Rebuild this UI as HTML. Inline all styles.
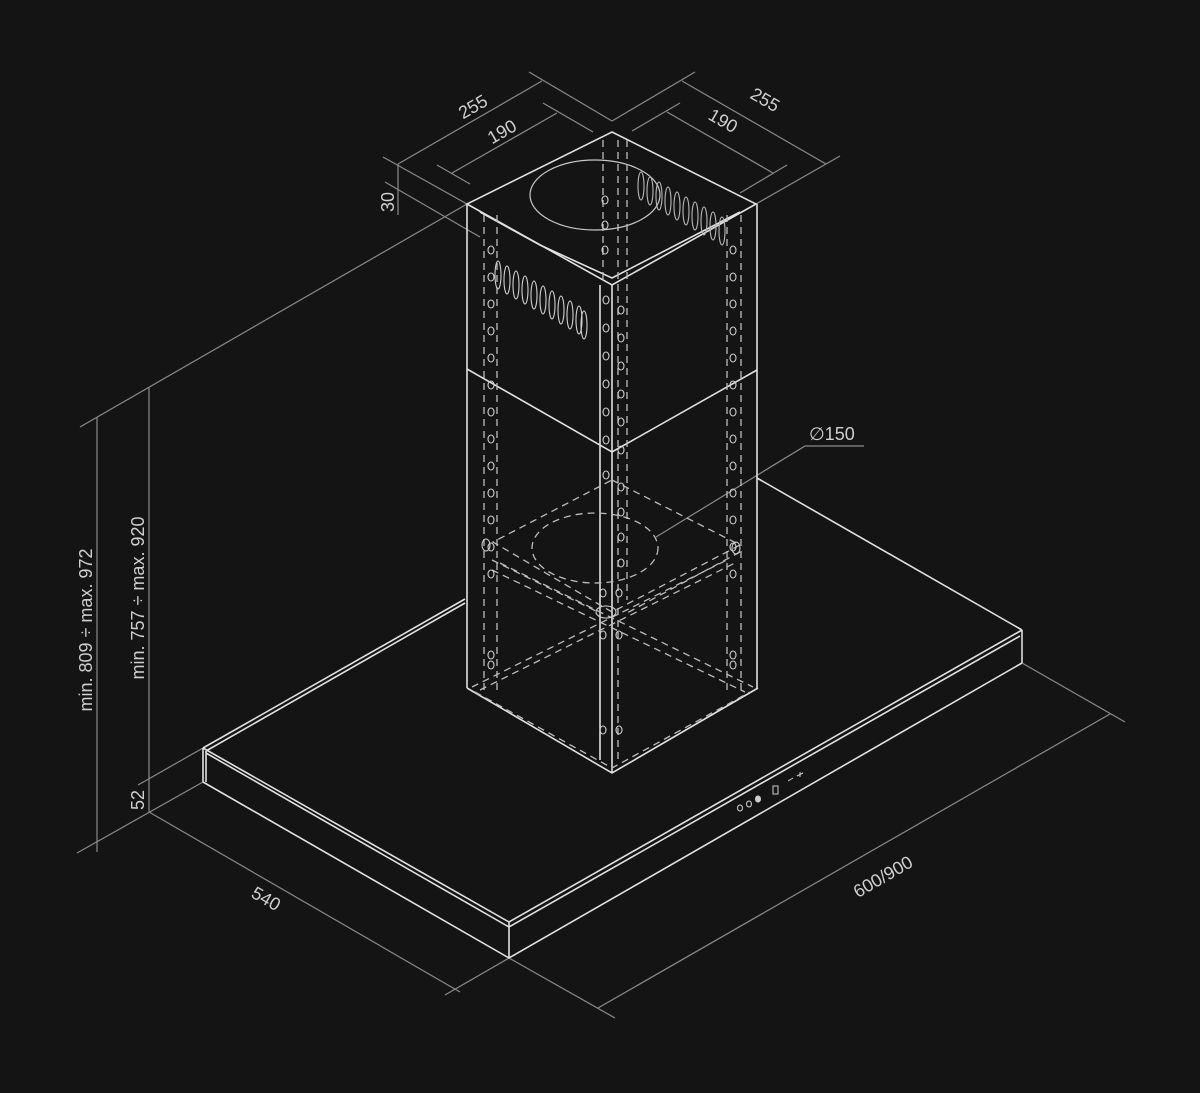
<!DOCTYPE html>
<html><head><meta charset="utf-8"><style>
html,body{margin:0;padding:0;background:#141414;}
svg{display:block}
text{font-family:"Liberation Sans","DejaVu Sans",sans-serif;fill:#cfcfcf;font-size:18px}
</style></head><body>
<svg width="1200" height="1093" viewBox="0 0 1200 1093" xmlns="http://www.w3.org/2000/svg">
<rect width="1200" height="1093" fill="#141414"/>
<!-- dimension lines -->
<g stroke="#8a8a8a" stroke-width="1.2" fill="none">
 <!-- top dims -->
 <line x1="529" y1="72" x2="612" y2="121"/>
 <line x1="695" y1="72" x2="612" y2="121"/>
 <line x1="383" y1="157" x2="467" y2="204"/>
 <line x1="840" y1="156" x2="756" y2="204"/>
 <line x1="398" y1="164" x2="542" y2="81"/>
 <line x1="682" y1="81" x2="826" y2="164"/>
 <line x1="437" y1="165" x2="470" y2="184"/>
 <line x1="543" y1="103" x2="593" y2="132"/>
 <line x1="452" y1="173" x2="557" y2="113"/>
 <line x1="680" y1="103" x2="632" y2="131"/>
 <line x1="787" y1="165" x2="740" y2="193"/>
 <line x1="667" y1="112" x2="773" y2="173"/>
 <line x1="398" y1="164" x2="398" y2="215"/>
 <line x1="385" y1="182" x2="480" y2="237"/>
 <!-- height dims -->
 <line x1="80" y1="427" x2="467" y2="204"/>
 <line x1="97" y1="417" x2="97" y2="852"/>
 <line x1="149" y1="388" x2="149" y2="812"/>
 <line x1="138" y1="785" x2="203" y2="748"/>
 <line x1="77" y1="853" x2="203" y2="782"/>
 <!-- 540 -->
 <line x1="149" y1="812" x2="460" y2="992"/>
 <line x1="445" y1="995" x2="509" y2="958"/>
 <!-- 600/900 -->
 <line x1="509" y1="958" x2="615" y2="1018"/>
 <line x1="1022" y1="663" x2="1125" y2="722"/>
 <line x1="598" y1="1008" x2="1110" y2="714"/>
 <!-- diameter leader -->
 <polyline points="656,537 805,446 864,446"/>
</g>
<!-- canopy -->
<g stroke="#e0e0e0" stroke-width="1.6" fill="none">
 <line x1="203" y1="748" x2="465" y2="599"/>
 <line x1="206" y1="751" x2="465" y2="603"/>
 <line x1="757" y1="478" x2="1022" y2="630"/>
 <polyline points="203,748 509,922 1022,630"/>
 <polyline points="206,753 509,927 1020,636"/>
 <polyline points="203,782 509,958 1022,663"/>
 <line x1="203" y1="748" x2="203" y2="782"/>
 <line x1="206" y1="751" x2="206" y2="782"/>
 <line x1="509" y1="922" x2="509" y2="958"/>
 <line x1="1022" y1="630" x2="1022" y2="663"/>
</g>
<!-- control panel -->
<g stroke="#d0d0d0" stroke-width="1" fill="none">
 <ellipse cx="740" cy="808" rx="2.5" ry="3"/>
 <ellipse cx="749" cy="804" rx="2.5" ry="3"/>
 <ellipse cx="758" cy="799" rx="2.5" ry="3" fill="#d0d0d0"/>
 <rect x="773" y="786" width="5" height="8"/>
 <line x1="788" y1="781" x2="793" y2="778"/>
 <line x1="797" y1="776" x2="803" y2="773"/><line x1="800" y1="772" x2="800" y2="777"/>
</g>
<!-- column -->
<g stroke="#e0e0e0" stroke-width="1.6" fill="none">
 <polygon points="612,132 756,204 612,285 467,204"/>
 <polyline points="480,212 540,245 612,278 740,212"/>
 <line x1="467" y1="204" x2="467" y2="688"/>
 <line x1="757" y1="204" x2="757" y2="688"/>
 <line x1="612" y1="285" x2="612" y2="773"/>
 <polyline points="467,688 612,773 758,688"/>
 <polyline points="467,369 612,452 757,370"/>
 <line x1="600" y1="285" x2="600" y2="760"/>
</g>
<g stroke="#c8c8c8" stroke-width="1.2" fill="none">
 <ellipse cx="595" cy="195" rx="65" ry="35"/>
</g>
<!-- dashed inner structure -->
<g stroke="#bdbdbd" stroke-width="1.3" fill="none" stroke-dasharray="7,5">
 <line x1="484" y1="215" x2="484" y2="690"/>
 <line x1="497" y1="215" x2="497" y2="690"/>
 <line x1="618" y1="140" x2="618" y2="760"/>
 <line x1="627" y1="140" x2="627" y2="600"/>
 <line x1="727" y1="215" x2="727" y2="690"/>
 <line x1="741" y1="215" x2="741" y2="690"/>
 <line x1="603" y1="140" x2="603" y2="280"/>
 <polygon points="612,480 740,545 612,612 493,542"/>
 <polyline points="492,560 600,613"/>
 <polyline points="740,552 627,613"/>
 <ellipse cx="595" cy="548" rx="63" ry="35"/>
 <line x1="472" y1="687" x2="727" y2="560"/>
 <line x1="480" y1="690" x2="735" y2="563"/>
 <line x1="500" y1="563" x2="753" y2="687"/>
 <line x1="492" y1="570" x2="745" y2="692"/>
 <polyline points="475,692 612,768 750,692"/>
</g>
<!-- holes -->
<g stroke="#d0d0d0" stroke-width="1.1" fill="none">
 <g id="lh">
  <ellipse cx="491" cy="250" rx="3" ry="4"/><ellipse cx="491" cy="277" rx="3" ry="4"/><ellipse cx="491" cy="304" rx="3" ry="4"/><ellipse cx="491" cy="331" rx="3" ry="4"/><ellipse cx="491" cy="358" rx="3" ry="4"/><ellipse cx="491" cy="385" rx="3" ry="4"/><ellipse cx="491" cy="412" rx="3" ry="4"/><ellipse cx="491" cy="439" rx="3" ry="4"/><ellipse cx="491" cy="466" rx="3" ry="4"/><ellipse cx="491" cy="493" rx="3" ry="4"/><ellipse cx="491" cy="520" rx="3" ry="4"/><ellipse cx="491" cy="547" rx="3" ry="4"/><ellipse cx="491" cy="574" rx="3" ry="4"/><ellipse cx="491" cy="655" rx="3" ry="4"/><ellipse cx="491" cy="665" rx="3" ry="4"/>
 </g>
 <use href="#lh" x="242"/>
 <g>
  <ellipse cx="606" cy="300" rx="3" ry="4"/><ellipse cx="621" cy="310" rx="3" ry="4"/><ellipse cx="606" cy="328" rx="3" ry="4"/><ellipse cx="621" cy="338" rx="3" ry="4"/><ellipse cx="606" cy="356" rx="3" ry="4"/><ellipse cx="621" cy="366" rx="3" ry="4"/><ellipse cx="606" cy="384" rx="3" ry="4"/><ellipse cx="621" cy="394" rx="3" ry="4"/><ellipse cx="606" cy="412" rx="3" ry="4"/><ellipse cx="621" cy="422" rx="3" ry="4"/><ellipse cx="606" cy="440" rx="3" ry="4"/><ellipse cx="621" cy="450" rx="3" ry="4"/><ellipse cx="606" cy="475" rx="3" ry="4"/><ellipse cx="621" cy="487" rx="3" ry="4"/><ellipse cx="621" cy="512" rx="3" ry="4"/><ellipse cx="621" cy="537" rx="3" ry="4"/><ellipse cx="621" cy="563" rx="3" ry="4"/><ellipse cx="603" cy="593" rx="3" ry="4"/><ellipse cx="619" cy="593" rx="3" ry="4"/><ellipse cx="603" cy="635" rx="3" ry="4"/><ellipse cx="619" cy="635" rx="3" ry="4"/><ellipse cx="603" cy="730" rx="3" ry="4"/><ellipse cx="619" cy="730" rx="3" ry="4"/>
  <ellipse cx="605" cy="200" rx="3" ry="4"/><ellipse cx="605" cy="225" rx="3" ry="4"/><ellipse cx="605" cy="250" rx="3" ry="4"/>
  <ellipse cx="606" cy="612" rx="10" ry="6"/><ellipse cx="486" cy="545" rx="4" ry="6"/><ellipse cx="736" cy="548" rx="4" ry="6"/>
 </g>
 <!-- slots left face -->
 <g>
  <ellipse cx="498" cy="275" rx="3" ry="14"/><ellipse cx="507" cy="280" rx="3" ry="14"/><ellipse cx="516" cy="285" rx="3" ry="14"/><ellipse cx="525" cy="290" rx="3" ry="14"/><ellipse cx="534" cy="295" rx="3" ry="14"/><ellipse cx="543" cy="300" rx="3" ry="14"/><ellipse cx="552" cy="305" rx="3" ry="14"/><ellipse cx="561" cy="310" rx="3" ry="14"/><ellipse cx="570" cy="315" rx="3" ry="14"/><ellipse cx="579" cy="320" rx="3" ry="14"/><ellipse cx="584" cy="325" rx="3" ry="14"/>
 </g>
 <g stroke="#b8b8b8">
  <ellipse cx="641" cy="186" rx="3" ry="14"/><ellipse cx="650" cy="191" rx="3" ry="14"/><ellipse cx="659" cy="196" rx="3" ry="14"/><ellipse cx="668" cy="201" rx="3" ry="14"/><ellipse cx="677" cy="206" rx="3" ry="14"/><ellipse cx="686" cy="211" rx="3" ry="14"/><ellipse cx="695" cy="216" rx="3" ry="14"/><ellipse cx="704" cy="221" rx="3" ry="14"/><ellipse cx="713" cy="226" rx="3" ry="14"/><ellipse cx="722" cy="231" rx="3" ry="14"/>
 </g>
</g>
<!-- labels -->
<text transform="translate(476,112) rotate(-30)" text-anchor="middle">255</text>
<text transform="translate(505,137) rotate(-30)" text-anchor="middle">190</text>
<text transform="translate(762,105) rotate(30)" text-anchor="middle">255</text>
<text transform="translate(720,126) rotate(30)" text-anchor="middle">190</text>
<text transform="translate(394,202) rotate(-90)" text-anchor="middle">30</text>
<text transform="translate(92,630) rotate(-90)" text-anchor="middle">min. 809 ÷ max. 972</text>
<text transform="translate(144,598) rotate(-90)" text-anchor="middle">min. 757 ÷ max. 920</text>
<text transform="translate(144,800) rotate(-90)" text-anchor="middle">52</text>
<text transform="translate(263,904) rotate(30)" text-anchor="middle">540</text>
<text transform="translate(886,882) rotate(-30)" text-anchor="middle">600/900</text>
<text x="809" y="440">∅150</text>
</svg>
</body></html>
